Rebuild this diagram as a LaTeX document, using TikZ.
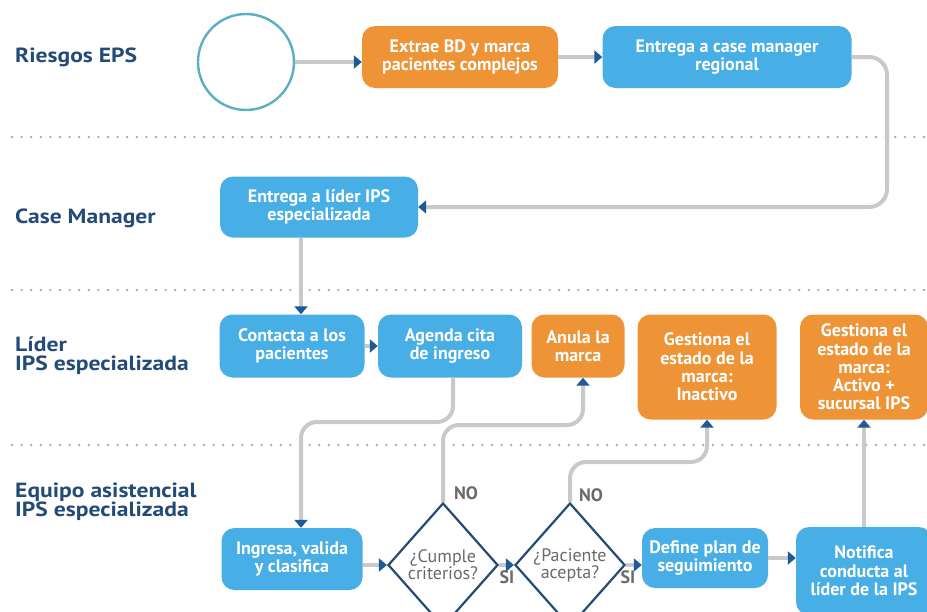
\documentclass[tikz,border=0pt]{standalone}
\usepackage{fontspec}
\setmainfont{PT Sans}
\newfontfamily\lanefont[FakeStretch=1.15]{PT Sans}
\usetikzlibrary{arrows.meta,shapes.geometric}
\definecolor{boxblue}{HTML}{48AEE6}
\definecolor{boxorange}{HTML}{EE9437}
\definecolor{lanenavy}{HTML}{244B77}
\definecolor{tipblue}{HTML}{1F5A96}
\definecolor{flowgray}{HTML}{C9C9C9}
\definecolor{dotgray}{HTML}{ABABAB}
\definecolor{ringteal}{HTML}{5AAFC3}
\definecolor{asktext}{HTML}{6A6A6A}

\begin{document}
\begin{tikzpicture}[x=1pt,y=-1pt,
  lane/.style={anchor=west, inner sep=0pt, align=left, text=lanenavy,
    font=\lanefont\fontsize{20.5}{19}\selectfont\bfseries},
  task/.style={rounded corners=13pt, text=white, align=center, inner sep=0pt,
    font=\fontsize{18}{18.3}\selectfont\bfseries},
  bluetask/.style={task, fill=boxblue},
  orangetask/.style={task, fill=boxorange},
  ask/.style={diamond, draw=lanenavy, line width=2.2pt, fill=white, inner sep=0pt,
    minimum width=110pt, minimum height=124pt, align=center, text=asktext,
    font=\fontsize{18}{17}\selectfont},
  answer/.style={text=asktext, inner sep=0pt, font=\fontsize{18}{18}\selectfont\bfseries},
  flow/.style={draw=flowgray, line width=4pt,
    -{Triangle[length=8pt,width=13pt,color=tipblue]}},
  lanesep/.style={draw=dotgray, line width=2.6pt, line cap=round,
    dash pattern=on 0pt off 9.6pt}
]
\useasboundingbox (0,0) rectangle (927,611);
\clip (0,0) rectangle (927,611);
\fill[white] (0,0) rectangle (927,611);

% swimlane separators
\draw[lanesep] (12,137) -- (927,137);
\draw[lanesep] (12,290) -- (927,290);
\draw[lanesep] (12,445) -- (927,445);

% swimlane titles
\node[lane] (laneEPS) at (15,57) {Riesgos EPS};
\node[lane] (laneCM) at (15,218) {Case Manager};
\node[lane] (laneLider) at (15,356) {Líder\\IPS especializada};
\node[lane] (laneEquipo) at (15,502) {Equipo asistencial\\IPS especializada};

% activities
\node[circle, draw=ringteal, line width=2.4pt, minimum size=96pt, inner sep=0pt] (start) at (246,62) {};
\node[orangetask, minimum width=196pt, minimum height=62pt] (extrae) at (460,57) {Extrae BD y marca\\pacientes complejos};
\node[bluetask, minimum width=249pt, minimum height=62pt] (casemgr) at (727,57) {Entrega a case manager\\regional};
\node[bluetask, minimum width=198pt, minimum height=61pt] (lider) at (319,207) {Entrega a líder IPS\\especializada};
\node[bluetask, minimum width=145pt, minimum height=63pt] (contacta) at (292,346) {Contacta a los\\pacientes};
\node[bluetask, minimum width=144pt, minimum height=63pt] (agenda) at (450,346) {Agenda cita\\de ingreso};
\node[orangetask, minimum width=93pt, minimum height=63pt] (anula) at (578,346) {Anula la\\marca};
\node[orangetask, minimum width=139pt, minimum height=105pt] (inactivo) at (707,367) {Gestiona el\\estado de la\\marca:\\Inactivo};
\node[orangetask, minimum width=128pt, minimum height=105pt] (activo) at (864,367) {Gestiona el\\estado de la\\marca:\\Activo +\\sucursal IPS};
\node[bluetask, minimum width=141pt, minimum height=62pt] (ingresa) at (292,559) {Ingresa, valida\\y clasifica};
\node[ask] (cumple) at (443,565) {¿Cumple\\criterios?};
\node[ask] (paciente) at (570,565) {¿Paciente\\acepta?};
\node[bluetask, minimum width=126pt, minimum height=60pt] (define) at (705,558) {Define plan de\\seguimiento};
\node[bluetask, minimum width=136pt, minimum height=88pt] (notifica) at (864,571) {Notifica\\conducta al\\líder de la IPS};

% decision answers
\node[answer] (noCumple) at (466,493) {NO};
\node[answer] (noAcepta) at (591,495) {NO};
\node[answer] (siCumple) at (507,577) {SI};
\node[answer] (siAcepta) at (628,577) {SI};

% routing points
\coordinate (bendR) at (887,207);
\coordinate (trackA) at (377,422);
\coordinate (trackB) at (510,425);
\coordinate (trackC) at (640,462);

% connectors
\draw[flow] (start.east) -- (start.east -| extrae.west);
\draw[flow] (extrae.east) -- (casemgr.west);
\draw[flow, rounded corners=18pt] (casemgr.east) -| (bendR) -- (lider.east);
\draw[flow] ([xshift=-18pt]lider.south) -- ([xshift=9pt]contacta.north);
\draw[flow] (contacta) -- (agenda);
\draw[flow, rounded corners=16pt] ([xshift=3pt]agenda.south) |- (trackA) -| ([xshift=9pt]ingresa.north);
\draw[flow] (ingresa.east |- cumple) -- (cumple.west);
\draw[flow] (cumple.east) -- (paciente.west);
\draw[flow] (paciente.east) -- (paciente.east -| define.west);
\draw[flow] (define.east) -- (define.east -| notifica.west);
\draw[flow] (notifica.north) -- (activo.south);
\draw[flow, rounded corners=16pt] (cumple.north) |- (trackB) -| ([xshift=5pt]anula.south);
\draw[flow, rounded corners=16pt] (paciente.north) |- (trackC) -| (inactivo.south);
\end{tikzpicture}
\end{document}
